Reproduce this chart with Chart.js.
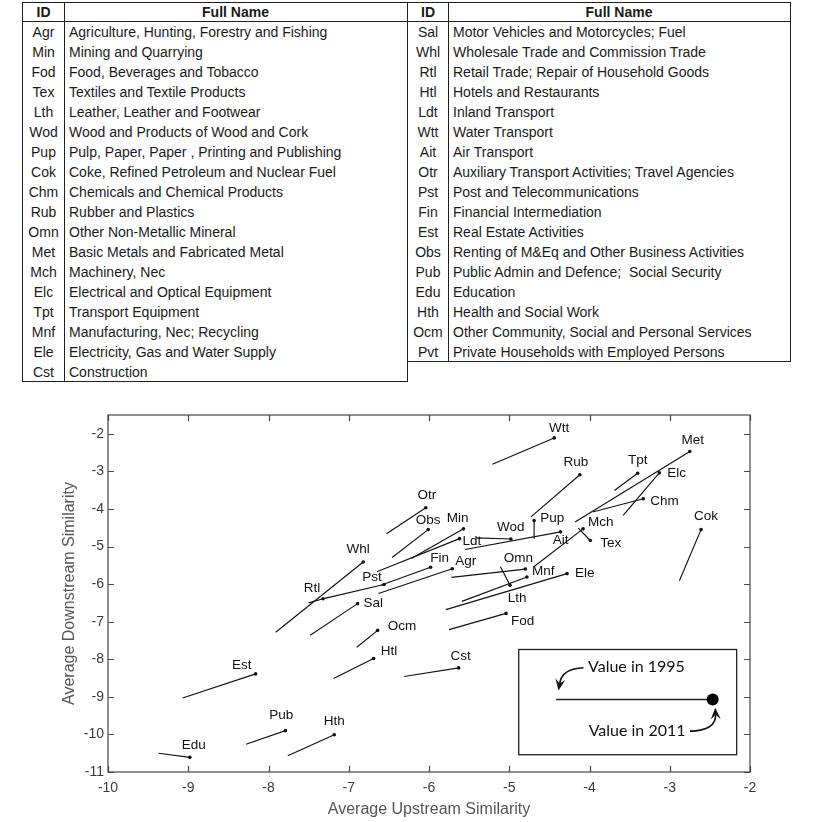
<!DOCTYPE html>
<html>
<head>
<meta charset="utf-8">
<script src="https://cdn.jsdelivr.net/npm/chart.js@4.4.1/dist/chart.umd.min.js"></script>
<style>
html,body{margin:0;padding:0;background:#fff;width:830px;height:822px;overflow:hidden;font-family:"Liberation Sans",Arial,Helvetica,sans-serif;}
.tbl{position:absolute;top:2px;border:1.5px solid #1e1e1e;box-sizing:border-box;color:#1a1a1a;font-size:14px;}
.hdr{height:18px;border-bottom:1.5px solid #1e1e1e;display:flex;font-weight:bold;line-height:18px;}
.row{height:20px;display:flex;line-height:21px;}
.c1{text-align:center;flex:none;}
.c2{flex:1;padding-left:5px;white-space:pre;}
.hdr .c2{text-align:center;padding-left:0;}
.vline{position:absolute;top:0;bottom:0;width:1.5px;background:#1e1e1e;}
#wrap{position:absolute;left:0;top:395px;width:830px;height:427px;}
</style>
</head>
<body>
<div id="tblL" class="tbl" style="left:22px;width:386px;height:380px;"></div>
<div id="tblR" class="tbl" style="left:407px;width:384px;height:360px;"></div>
<div id="wrap"><canvas id="c"></canvas></div>
<script>
// ---------- table data ----------
const leftIds = ["Agr","Min","Fod","Tex","Lth","Wod","Pup","Cok","Chm","Rub","Omn","Met","Mch","Elc","Tpt","Mnf","Ele","Cst"];
const leftNames = ["Agriculture, Hunting, Forestry and Fishing","Mining and Quarrying","Food, Beverages and Tobacco","Textiles and Textile Products","Leather, Leather and Footwear","Wood and Products of Wood and Cork","Pulp, Paper, Paper , Printing and Publishing","Coke, Refined Petroleum and Nuclear Fuel","Chemicals and Chemical Products","Rubber and Plastics","Other Non-Metallic Mineral","Basic Metals and Fabricated Metal","Machinery, Nec","Electrical and Optical Equipment","Transport Equipment","Manufacturing, Nec; Recycling","Electricity, Gas and Water Supply","Construction"];
const rightIds = ["Sal","Whl","Rtl","Htl","Ldt","Wtt","Ait","Otr","Pst","Fin","Est","Obs","Pub","Edu","Hth","Ocm","Pvt"];
const rightNames = ["Motor Vehicles and Motorcycles; Fuel","Wholesale Trade and Commission Trade","Retail Trade; Repair of Household Goods","Hotels and Restaurants","Inland Transport","Water Transport","Air Transport","Auxiliary Transport Activities; Travel Agencies","Post and Telecommunications","Financial Intermediation","Real Estate Activities","Renting of M&Eq and Other Business Activities","Public Admin and Defence;  Social Security","Education","Health and Social Work","Other Community, Social and Personal Services","Private Households with Employed Persons"];

// ---------- chart data ----------
const ids   = ["Agr","Min","Fod","Tex","Lth","Wod","Pup","Cok","Chm","Rub","Omn","Met","Mch","Elc","Tpt","Mnf","Ele","Cst","Sal","Whl","Rtl","Htl","Ldt","Wtt","Ait","Otr","Pst","Fin","Est","Obs","Pub","Edu","Hth","Ocm"];
const up1995   = [-6.63,-6.22,-5.75,-4.14,-5.11,-5.41,-4.68,-2.88,-3.96,-4.73,-5.72,-4.18,-4.69,-3.58,-3.69,-5.59,-5.79,-6.31,-7.48,-7.91,-7.50,-7.19,-6.65,-5.21,-5.55,-6.53,-7.30,-6.60,-9.07,-6.46,-8.28,-9.37,-7.76,-6.90];
const down1995 = [-6.25,-5.32,-7.21,-4.51,-5.54,-4.77,-4.77,-5.91,-4.08,-4.21,-5.82,-4.35,-5.53,-4.17,-3.51,-6.46,-6.68,-8.46,-7.36,-7.28,-6.50,-8.51,-5.67,-2.81,-5.08,-4.66,-6.38,-6.03,-9.03,-5.29,-10.26,-10.50,-10.57,-7.68];
const up2011   = [-5.71,-5.57,-5.04,-3.99,-4.99,-4.98,-4.69,-2.61,-3.33,-4.12,-4.80,-2.75,-4.08,-3.13,-3.40,-4.78,-4.28,-5.63,-6.89,-6.82,-7.32,-6.69,-5.62,-4.44,-4.36,-6.04,-6.56,-5.98,-8.16,-6.01,-7.79,-8.98,-7.18,-6.64];
const down2011 = [-5.59,-4.53,-6.78,-4.84,-6.03,-4.80,-4.31,-4.55,-3.73,-3.09,-5.60,-2.47,-4.53,-3.04,-3.05,-5.81,-5.72,-8.23,-6.52,-5.41,-6.39,-7.98,-4.79,-2.11,-4.61,-3.97,-6.01,-5.55,-8.39,-4.55,-9.90,-10.61,-10.01,-7.23];
const xTicks = [-10,-9,-8,-7,-6,-5,-4,-3,-2];
const yTicks = [-11,-10,-9,-8,-7,-6,-5,-4,-3,-2];

// ---------- layout (label placement, px offsets from the 2011 dot) ----------
const labelPos = {
  Agr:["left",3,-7], Min:["center",-6,-11], Fod:["left",5,8], Tex:["left",10,3], Lth:["center",7,13],
  Wod:["center",0,-12], Pup:["left",6,-2], Cok:["center",5,-13], Chm:["left",7,2], Rub:["center",-4,-12],
  Omn:["center",-7,-11], Met:["center",3,-11], Mch:["left",5,-7], Elc:["left",8,0], Tpt:["center",0,-13],
  Mnf:["left",5,-6], Ele:["left",8,0], Cst:["center",2,-12], Sal:["left",6,0], Whl:["center",-5,-13],
  Rtl:["center",-11,-10], Htl:["left",7,-7], Ldt:["left",3,3], Wtt:["center",5,-10], Ait:["center",0,8],
  Otr:["center",1,-13], Pst:["center",-12,-7], Fin:["center",9,-9], Est:["center",-14,-9], Obs:["center",0,-9],
  Pub:["center",-4,-15], Edu:["center",4,-12], Hth:["center",0,-14], Ocm:["left",10,-4]
};

// ---------- build tables ----------
function buildTable(el, tIds, tNames, idW){
  const mk = (cls, txt, w) => { const d=document.createElement('div'); d.className=cls; d.textContent=txt; if(w) d.style.width=w+'px'; return d; };
  const h = document.createElement('div'); h.className='hdr';
  h.appendChild(mk('c1','ID',idW)); h.appendChild(mk('c2','Full Name'));
  el.appendChild(h);
  tIds.forEach((id,i)=>{
    const r=document.createElement('div'); r.className='row';
    r.appendChild(mk('c1',id,idW)); r.appendChild(mk('c2',tNames[i]));
    el.appendChild(r);
  });
  const v=document.createElement('div'); v.className='vline'; v.style.left=(idW-0.5)+'px'; el.appendChild(v);
}
buildTable(document.getElementById('tblL'), leftIds, leftNames, 41);
buildTable(document.getElementById('tblR'), rightIds, rightNames, 40);

// ---------- chart ----------
Chart.defaults.font.family = "'Liberation Sans', Arial, Helvetica, sans-serif";
const datasets = ids.map((id,i)=>({
  label:id,
  data:[{x:up1995[i],y:down1995[i]},{x:up2011[i],y:down2011[i]}],
  showLine:true,
  borderColor:'#111',
  borderWidth:1.15,
  pointRadius:[0,1.8],
  pointBackgroundColor:'#111',
  pointBorderWidth:0,
  pointHoverRadius:[0,1.8]
}));

const inset = {x0:-4.882, x1:-2.166, y0:-7.74, y1:-10.54, lx0:-4.417, lx1:-2.465, ly:-9.07};

function drawArrow(ctx, sx, sy, cx, cy, tx, ty){
  let dx=tx-cx, dy=ty-cy; const L=Math.hypot(dx,dy); dx/=L; dy/=L;
  const hl=10, hw=5;
  const bx=tx-dx*hl, by=ty-dy*hl;
  ctx.beginPath(); ctx.moveTo(sx,sy); ctx.quadraticCurveTo(cx,cy,bx+dx*3,by+dy*3); ctx.stroke();
  const nx=-dy, ny=dx;
  ctx.beginPath();
  ctx.moveTo(tx,ty);
  ctx.lineTo(bx+nx*hw-dx*1.5, by+ny*hw-dy*1.5);
  ctx.lineTo(bx+dx*3, by+dy*3);
  ctx.lineTo(bx-nx*hw-dx*1.5, by-ny*hw-dy*1.5);
  ctx.closePath(); ctx.fill();
}

const decor = {
  id:'decor',
  afterDatasetsDraw(chart){
    const {ctx, chartArea:a, scales:{x,y}} = chart;
    ctx.save();
    // frame & inward ticks
    ctx.strokeStyle='#474747'; ctx.lineWidth=1.2;
    ctx.strokeRect(a.left,a.top,a.right-a.left,a.bottom-a.top);
    const tl=6;
    ctx.beginPath();
    xTicks.forEach(v=>{ const p=Math.round(x.getPixelForValue(v))+0.5;
      ctx.moveTo(p,a.bottom); ctx.lineTo(p,a.bottom-tl); ctx.moveTo(p,a.top); ctx.lineTo(p,a.top+tl); });
    yTicks.forEach(v=>{ const p=Math.round(y.getPixelForValue(v))+0.5;
      ctx.moveTo(a.left,p); ctx.lineTo(a.left+tl,p); ctx.moveTo(a.right,p); ctx.lineTo(a.right-tl,p); });
    ctx.stroke();
    // point labels
    ctx.fillStyle='#111'; ctx.font="13.5px 'Liberation Sans', Arial, sans-serif"; ctx.textBaseline='middle';
    ids.forEach((id,i)=>{
      const p=labelPos[id]; const px=x.getPixelForValue(up2011[i]), py=y.getPixelForValue(down2011[i]);
      ctx.textAlign=p[0]; ctx.fillText(id, px+p[1], py+p[2]);
    });
    // inset legend
    const L=x.getPixelForValue(inset.x0), R=x.getPixelForValue(inset.x1);
    const T=y.getPixelForValue(inset.y0), B=y.getPixelForValue(inset.y1);
    ctx.strokeStyle='#222'; ctx.lineWidth=1.3;
    ctx.strokeRect(L,T,R-L,B-T);
    const sx=x.getPixelForValue(inset.lx0), ex=x.getPixelForValue(inset.lx1), ly=y.getPixelForValue(inset.ly);
    ctx.lineWidth=1.6; ctx.beginPath(); ctx.moveTo(sx,ly); ctx.lineTo(ex,ly); ctx.stroke();
    ctx.fillStyle='#000'; ctx.beginPath(); ctx.arc(ex,ly,6,0,Math.PI*2); ctx.fill();
    ctx.font="16px Lato, 'Open Sans', sans-serif"; ctx.textAlign='left'; ctx.fillStyle='#111';
    ctx.fillText('Value in 1995', sx+32, ly-32.5);
    ctx.fillText('Value in 2011', ex-124, ly+31.5);
    ctx.lineWidth=1.6; ctx.strokeStyle='#111'; ctx.fillStyle='#111';
    drawArrow(ctx, sx+27.5, ly-31.7, sx+6, ly-31, sx+2.5, ly-9);
    drawArrow(ctx, ex-22.7, ly+31.7, ex+3.5, ly+31, ex+2.6, ly+8.3);
    ctx.restore();
  }
};

new Chart(document.getElementById('c'), {
  type:'scatter',
  data:{datasets},
  options:{
    responsive:true, maintainAspectRatio:false, animation:false,
    events:[],
    layout:{padding:{left:0,right:80,top:20,bottom:0}},
    plugins:{legend:{display:false}, tooltip:{enabled:false}},
    scales:{
      x:{
        type:'linear', min:-10, max:-2,
        grid:{display:false, drawTicks:false}, border:{display:false},
        afterBuildTicks(s){ s.ticks = xTicks.map(v=>({value:v})); },
        afterFit(s){ s.height = 50; },
        ticks:{color:'#3a3a3a', font:{size:14}, padding:8, maxRotation:0, autoSkip:false, callback:v=>String(v)},
        title:{display:true, text:'Average Upstream Similarity', color:'#555', font:{size:16}, padding:{top:0,bottom:3}}
      },
      y:{
        type:'linear', min:-11, max:-1.5,
        grid:{display:false, drawTicks:false}, border:{display:false},
        afterBuildTicks(s){ s.ticks = yTicks.map(v=>({value:v})); },
        afterFit(s){ s.width = 108; },
        ticks:{color:'#3a3a3a', font:{size:14}, padding:4, autoSkip:false, callback:v=>String(v)},
        title:{display:true, text:'Average Downstream Similarity', color:'#555', font:{size:16}, padding:{top:60,bottom:0}}
      }
    }
  },
  plugins:[decor]
});
</script>
</body>
</html>
